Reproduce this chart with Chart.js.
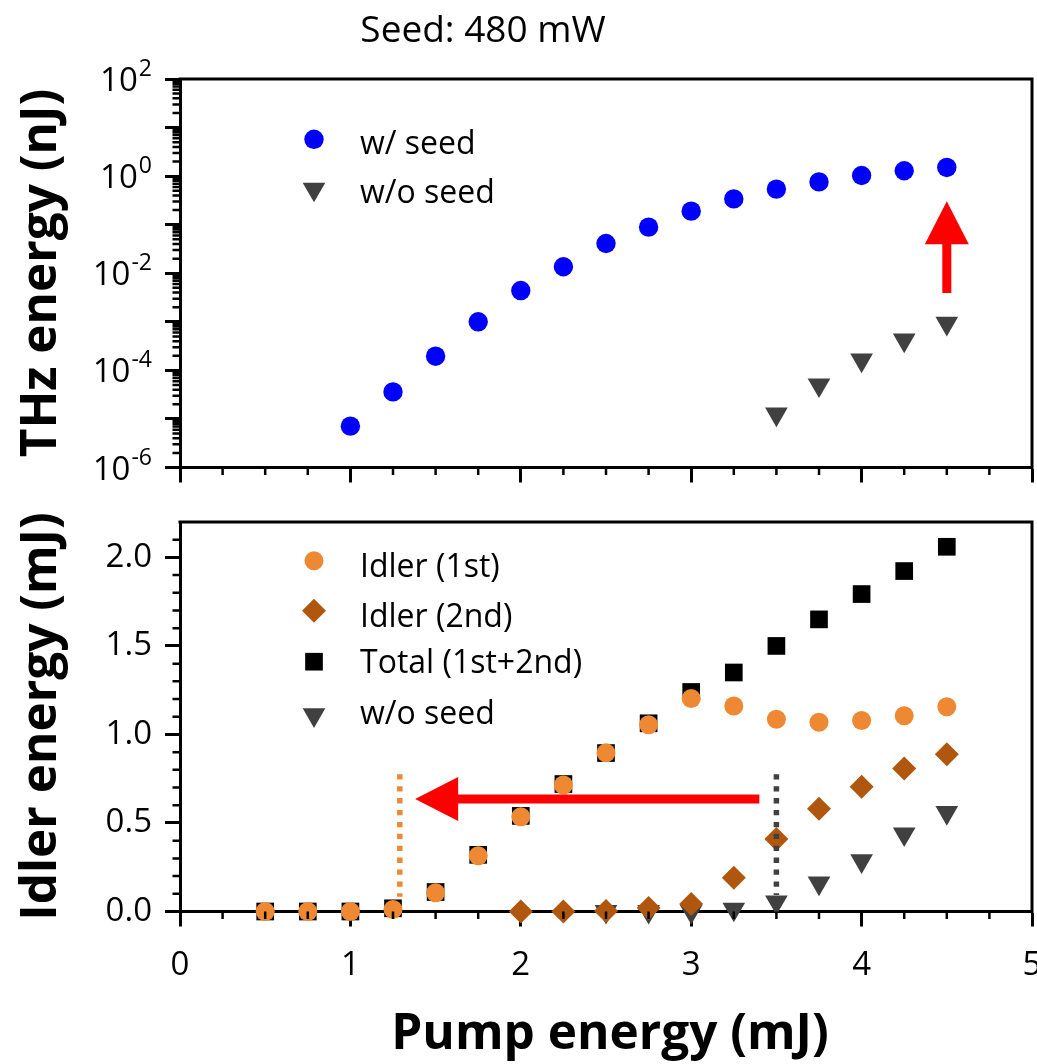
<!DOCTYPE html>
<html>
<head>
<meta charset="utf-8">
<script src="https://cdn.jsdelivr.net/npm/chart.js@4.4.1/dist/chart.umd.min.js"></script>
<style>
  html, body { margin: 0; padding: 0; background: #fff; }
  #wrap { position: relative; width: 1037px; height: 1064px; }
  canvas { position: absolute; left: 0; }
  #thzCanvas { top: 0; }
  #idlerCanvas { top: 494px; }
</style>
</head>
<body>
<div id="wrap">
  <canvas id="thzCanvas" width="1037" height="494"></canvas>
  <canvas id="idlerCanvas" width="1037" height="570"></canvas>
</div>
<script>
// top panel: THz energy (nJ), log axis
const pumpSeed = [1, 1.25, 1.5, 1.75, 2, 2.25, 2.5, 2.75, 3, 3.25, 3.5, 3.75, 4, 4.25, 4.5];
const thzSeed = [7.1e-6, 3.6e-5, 1.96e-4, 1.0e-3, 4.4e-3, 0.0136, 0.041, 0.089, 0.19, 0.34, 0.54, 0.76, 1.03, 1.29, 1.51];
const pumpNoSeedThz = [3.5, 3.75, 4, 4.25, 4.5];
const thzNoSeed = [1.26e-5, 5.0e-5, 1.63e-4, 4.2e-4, 9.3e-4];

// bottom panel: idler energy (mJ)
const pumpIdler = [0.5, 0.75, 1, 1.25, 1.5, 1.75, 2, 2.25, 2.5, 2.75, 3, 3.25, 3.5, 3.75, 4, 4.25, 4.5];
const idler1st = [0, 0, 0, 0.012, 0.106, 0.315, 0.535, 0.714, 0.896, 1.055, 1.203, 1.161, 1.086, 1.069, 1.079, 1.106, 1.157];
const idlerTotal = [0, 0, 0, 0.018, 0.11, 0.32, 0.54, 0.72, 0.895, 1.063, 1.24, 1.35, 1.5, 1.65, 1.793, 1.923, 2.06];
const pumpIdler2nd = [2, 2.25, 2.5, 2.75, 3, 3.25, 3.5, 3.75, 4, 4.25, 4.5];
const idler2nd = [0, 0, 0.003, 0.02, 0.042, 0.19, 0.41, 0.58, 0.705, 0.807, 0.888];
const pumpNoSeedIdler = [2.5, 2.75, 3, 3.25, 3.5, 3.75, 4, 4.25, 4.5];
const idlerNoSeed = [0, 0, 0, 0.013, 0.054, 0.16, 0.286, 0.438, 0.559];

// ticks
const pumpTicks = [0, 1, 2, 3, 4, 5];
const pumpMinor = [0.25, 0.5, 0.75, 1.25, 1.5, 1.75, 2.25, 2.5, 2.75, 3.25, 3.5, 3.75, 4.25, 4.5, 4.75];
const thzDecades = [1e-6, 1e-5, 1e-4, 1e-3, 1e-2, 1e-1, 1e0, 1e1, 1e2];
const thzLabelled = [1e-6, 1e-4, 1e-2, 1e0, 1e2];
const idlerTicks = [0, 0.5, 1, 1.5, 2];
const idlerMinor = [0.1, 0.2, 0.3, 0.4, 0.6, 0.7, 0.8, 0.9, 1.1, 1.2, 1.3, 1.4, 1.6, 1.7, 1.8, 1.9, 2.1];

// annotations (data units)
const thzArrowX = [4.5, 4.5];
const thzArrowY = [0.0039, 0.305];
const idlerArrowX = [3.40, 1.38];
const idlerArrowY = [0.636, 0.636];
const guideX = [1.29, 3.5];
const guideTop = [0.775, 0.775];
const guideBottom = [0.084, 0.093];
const guideColors = ['#ee8833', '#404040'];

const FONT = '"Open Sans", "Noto Sans", sans-serif';

const pts = (xs, ys) => xs.map((x, i) => ({ x, y: ys[i] }));
const logMinor = [];
thzDecades.slice(0, -1).forEach((d) => { for (let m = 2; m <= 9; m++) logMinor.push(m * d); });

function noPad(s) {
  s.paddingLeft = 0; s.paddingRight = 0; s.paddingTop = 0; s.paddingBottom = 0;
}

function drawArrow(ctx, x1, y1, x2, y2) {
  const len = Math.hypot(x2 - x1, y2 - y1);
  const ux = (x2 - x1) / len, uy = (y2 - y1) / len;
  const nx = -uy, ny = ux;
  const headL = 43, headW = 22, shaft = 4.5;
  const bx = x2 - ux * headL, by = y2 - uy * headL;
  ctx.save();
  ctx.fillStyle = '#ff0000';
  ctx.beginPath();
  ctx.moveTo(x1 + nx * shaft, y1 + ny * shaft);
  ctx.lineTo(bx + nx * shaft, by + ny * shaft);
  ctx.lineTo(bx + nx * headW, by + ny * headW);
  ctx.lineTo(x2, y2);
  ctx.lineTo(bx - nx * headW, by - ny * headW);
  ctx.lineTo(bx - nx * shaft, by - ny * shaft);
  ctx.lineTo(x1 - nx * shaft, y1 - ny * shaft);
  ctx.closePath();
  ctx.fill();
  ctx.restore();
}

function makeDecor(cfg) {
  return {
    id: 'decor',
    afterDatasetsDraw(chart) {
      const ctx = chart.ctx, xs = chart.scales.x, ys = chart.scales.y;
      (cfg.guides || []).forEach((g) => {
        const px = xs.getPixelForValue(g.x);
        ctx.save();
        ctx.strokeStyle = g.color;
        ctx.lineWidth = 5.5;
        ctx.setLineDash([5.3, 6.6]);
        ctx.beginPath();
        ctx.moveTo(px, ys.getPixelForValue(g.from));
        ctx.lineTo(px, ys.getPixelForValue(g.to));
        ctx.stroke();
        ctx.restore();
      });
      if (cfg.arrow) {
        const a = cfg.arrow;
        drawArrow(ctx, xs.getPixelForValue(a.x[0]), ys.getPixelForValue(a.y[0]),
          xs.getPixelForValue(a.x[1]), ys.getPixelForValue(a.y[1]));
      }
    },
    afterDraw(chart) {
      const ctx = chart.ctx, xs = chart.scales.x, ys = chart.scales.y;
      const { left, right, top, bottom } = chart.chartArea;
      ctx.save();
      ctx.strokeStyle = '#000';
      ctx.lineWidth = 3;
      ctx.beginPath();
      ctx.moveTo(left - 1.5, top);
      ctx.lineTo(right, top);
      ctx.lineTo(right, bottom + 1.5);
      ctx.stroke();

      ctx.lineWidth = 2.5;
      ctx.beginPath();
      cfg.xMinor.forEach((v) => {
        const p = xs.getPixelForValue(v);
        ctx.moveTo(p, bottom); ctx.lineTo(p, bottom + 7.5);
      });
      cfg.yMinor.forEach((v) => {
        const p = ys.getPixelForValue(v);
        ctx.moveTo(left, p); ctx.lineTo(left - 7.5, p);
      });
      ctx.stroke();

      // 10^n labels on the log axis
      (cfg.powLabels || []).forEach((v) => {
        const p = ys.getPixelForValue(v);
        const e = String(Math.round(Math.log10(v)));
        ctx.fillStyle = '#000';
        ctx.textAlign = 'right';
        ctx.textBaseline = 'alphabetic';
        ctx.font = `23px ${FONT}`;
        const ew = ctx.measureText(e).width;
        ctx.fillText(e, 152, p - 3);
        ctx.font = `33px ${FONT}`;
        ctx.fillText('10', 152 - ew - 1, p + 12);
      });

      // legend
      chart.data.datasets.forEach((ds, i) => {
        const row = cfg.legendRows[i];
        ctx.fillStyle = ds.pointBackgroundColor;
        Chart.helpers.drawPoint(ctx, {
          pointStyle: ds.pointStyle, radius: ds.pointRadius,
          rotation: ds.pointRotation || 0, borderWidth: 0
        }, 314, row[0]);
        ctx.fillStyle = '#000';
        ctx.font = `32px ${FONT}`;
        ctx.textAlign = 'left';
        ctx.textBaseline = 'alphabetic';
        ctx.fillText(ds.label, 360, row[1]);
      });

      cfg.texts.forEach((t) => {
        ctx.save();
        ctx.fillStyle = '#000';
        ctx.font = `${t.font} ${FONT}`;
        ctx.textAlign = 'center';
        ctx.textBaseline = 'alphabetic';
        ctx.translate(t.x, t.y);
        if (t.rot) ctx.rotate(-Math.PI / 2);
        ctx.fillText(t.text, 0, 0);
        ctx.restore();
      });
      ctx.restore();
    }
  };
}

function pumpAxis(height, showLabels) {
  return {
    type: 'linear', min: 0, max: 5, z: 1,
    afterBuildTicks: (s) => { s.ticks = pumpTicks.map((v) => ({ value: v })); },
    afterFit: (s) => { s.height = height; noPad(s); },
    ticks: { display: showLabels, color: '#000', padding: 19, font: { family: FONT, size: 33 }, callback: (v) => String(v), maxRotation: 0, autoSkip: false },
    grid: { drawOnChartArea: false, tickLength: 15, tickWidth: 3, tickColor: '#000' },
    border: { color: '#000', width: 3 }
  };
}

const baseOptions = {
  responsive: false,
  animation: false,
  events: [],
  plugins: { legend: { display: false }, tooltip: { enabled: false } }
};

new Chart(document.getElementById('thzCanvas'), {
  type: 'scatter',
  data: {
    datasets: [
      { label: 'w/ seed', data: pts(pumpSeed, thzSeed), pointStyle: 'circle', pointRadius: 9.7,
        pointBackgroundColor: '#0000ff', pointBorderWidth: 0, clip: false, order: 0 },
      { label: 'w/o seed', data: pts(pumpNoSeedThz, thzNoSeed), pointStyle: 'triangle', pointRotation: 180,
        pointRadius: 13.1, pointBackgroundColor: '#404040', pointBorderWidth: 0, clip: false, order: 1 }
    ]
  },
  options: {
    ...baseOptions,
    layout: { autoPadding: false, padding: { top: 79, right: 5, left: 0, bottom: 0 } },
    scales: {
      x: pumpAxis(26.5, false),
      y: {
        type: 'logarithmic', min: 1e-6, max: 1e2, z: 1,
        afterBuildTicks: (s) => { s.ticks = thzDecades.map((v) => ({ value: v })); },
        afterFit: (s) => { s.width = 180; noPad(s); },
        ticks: { display: false },
        grid: { drawOnChartArea: false, tickLength: 15, tickWidth: 3, tickColor: '#000' },
        border: { color: '#000', width: 3 }
      }
    }
  },
  plugins: [makeDecor({
    xMinor: pumpMinor,
    yMinor: logMinor,
    powLabels: thzLabelled,
    arrow: { x: thzArrowX, y: thzArrowY },
    legendRows: [[139.3, 154], [189.2, 202.7]],
    texts: [
      { text: 'Seed: 480 mW', x: 483, y: 41.7, font: '37px' },
      { text: 'THz energy (nJ)', x: 56, y: 273, font: 'bold 49.5px', rot: true }
    ]
  })]
});

new Chart(document.getElementById('idlerCanvas'), {
  type: 'scatter',
  data: {
    datasets: [
      { label: 'Idler (1st)', data: pts(pumpIdler, idler1st), pointStyle: 'circle', pointRadius: 9.5,
        pointBackgroundColor: '#ee8833', pointBorderWidth: 0, clip: false, order: 1 },
      { label: 'Idler (2nd)', data: pts(pumpIdler2nd, idler2nd), pointStyle: 'rectRot', pointRadius: 12,
        pointBackgroundColor: '#b0560f', pointBorderWidth: 0, clip: false, order: 0 },
      { label: 'Total (1st+2nd)', data: pts(pumpIdler, idlerTotal), pointStyle: 'rect', pointRadius: 12.5,
        pointBackgroundColor: '#000000', pointBorderWidth: 0, clip: false, order: 2 },
      { label: 'w/o seed', data: pts(pumpNoSeedIdler, idlerNoSeed), pointStyle: 'triangle', pointRotation: 180,
        pointRadius: 13.1, pointBackgroundColor: '#404040', pointBorderWidth: 0, clip: false, order: 3 }
    ]
  },
  options: {
    ...baseOptions,
    layout: { autoPadding: false, padding: { top: 28, right: 5, left: 0, bottom: 0 } },
    scales: {
      x: pumpAxis(152.5, true),
      y: {
        type: 'linear', min: 0, max: 2.2, z: 1,
        afterBuildTicks: (s) => { s.ticks = idlerTicks.map((v) => ({ value: v })); },
        afterFit: (s) => { s.width = 180; noPad(s); },
        ticks: { color: '#000', padding: 13, font: { family: FONT, size: 33 }, callback: (v) => v.toFixed(1) },
        grid: { drawOnChartArea: false, tickLength: 15, tickWidth: 3, tickColor: '#000' },
        border: { color: '#000', width: 3 }
      }
    }
  },
  plugins: [makeDecor({
    xMinor: pumpMinor,
    yMinor: idlerMinor,
    guides: guideX.map((x, i) => ({ x, from: guideTop[i], to: guideBottom[i], color: guideColors[i] })),
    arrow: { x: idlerArrowX, y: idlerArrowY },
    legendRows: [[66.7, 82.7], [116.7, 132.7], [167.7, 179.3], [220.9, 230]],
    texts: [
      { text: 'Idler energy (mJ)', x: 56, y: 222.5, font: 'bold 49.5px', rot: true },
      { text: 'Pump energy (mJ)', x: 610, y: 555.3, font: 'bold 49.5px' }
    ]
  })]
});
</script>
</body>
</html>
